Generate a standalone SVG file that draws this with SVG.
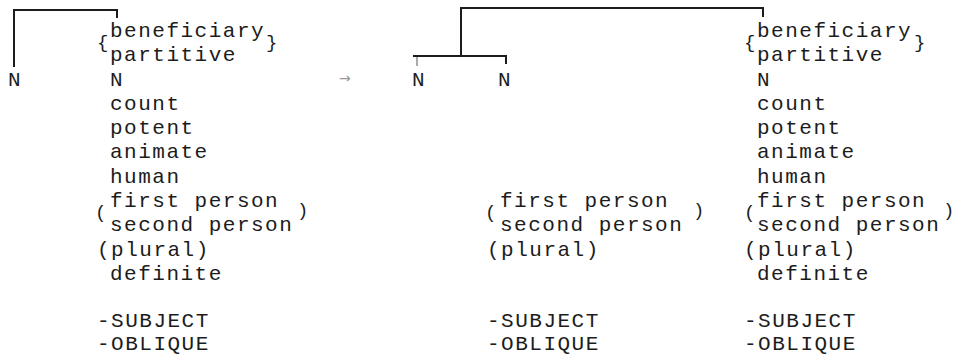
<svg xmlns="http://www.w3.org/2000/svg" width="963" height="357" viewBox="0 0 963 357">
<style>
text{font-family:"Liberation Mono","Courier New",monospace;font-size:21px;letter-spacing:1.5px;fill:#1c1c1c}
.br{font-size:19px;letter-spacing:0}
.ar{font-family:"DejaVu Sans",sans-serif;font-size:14px;letter-spacing:0;fill:#999}
.ln{stroke:#1c1c1c;stroke-width:2;fill:none}
.lt{stroke:#aaa;stroke-width:2;fill:none}
</style>
<rect width="963" height="357" fill="#fff"/>
<g id="connectors">
<path class="ln" d="M14,67 V10 H117 V18"/>
<path class="ln" d="M461,56 V8 H763 V17"/>
<path class="ln" d="M413,56 H506 V64"/>
<path class="lt" d="M417,57 V66"/>
</g>
<g id="leftN"><text x="8" y="86">N</text></g>
<g id="leftColumn">
<text class="br" x="97" y="48">{</text>
<text class="br" x="266" y="48">}</text>
<text x="110" y="37">beneficiary</text>
<text x="110" y="61">partitive</text>
<text x="110" y="85.5">N</text>
<text x="110" y="110">count</text>
<text x="110" y="134">potent</text>
<text x="110" y="158">animate</text>
<text x="110" y="182.5">human</text>
<text class="br" x="95" y="218">(</text>
<text x="110" y="207">first person</text>
<text x="110" y="231">second person</text>
<text class="br" x="297" y="216">)</text>
<text x="97" y="255.5">(plural)</text>
<text x="110" y="280">definite</text>
<text x="97" y="327">-SUBJECT</text>
<text x="97" y="350">-OBLIQUE</text>
</g>
<g id="arrow"><text class="ar" x="339" y="83">→</text></g>
<g id="midN1"><text x="412" y="86">N</text></g>
<g id="midN2"><text x="498" y="86">N</text></g>
<g id="midColumn">
<text class="br" x="485" y="218">(</text>
<text x="500" y="207">first person</text>
<text x="500" y="231">second person</text>
<text class="br" x="693" y="216">)</text>
<text x="487" y="255.5">(plural)</text>
<text x="487" y="327">-SUBJECT</text>
<text x="487" y="350">-OBLIQUE</text>
</g>
<g id="rightColumn">
<text class="br" x="744" y="48">{</text>
<text class="br" x="914" y="48">}</text>
<text x="757" y="37">beneficiary</text>
<text x="757" y="61">partitive</text>
<text x="757" y="85.5">N</text>
<text x="757" y="110">count</text>
<text x="757" y="134">potent</text>
<text x="757" y="158">animate</text>
<text x="757" y="182.5">human</text>
<text class="br" x="744" y="218">(</text>
<text x="757" y="207">first person</text>
<text x="757" y="231">second person</text>
<text class="br" x="943" y="216">)</text>
<text x="744" y="255.5">(plural)</text>
<text x="757" y="280">definite</text>
<text x="744" y="327">-SUBJECT</text>
<text x="744" y="350">-OBLIQUE</text>
</g>
</svg>
